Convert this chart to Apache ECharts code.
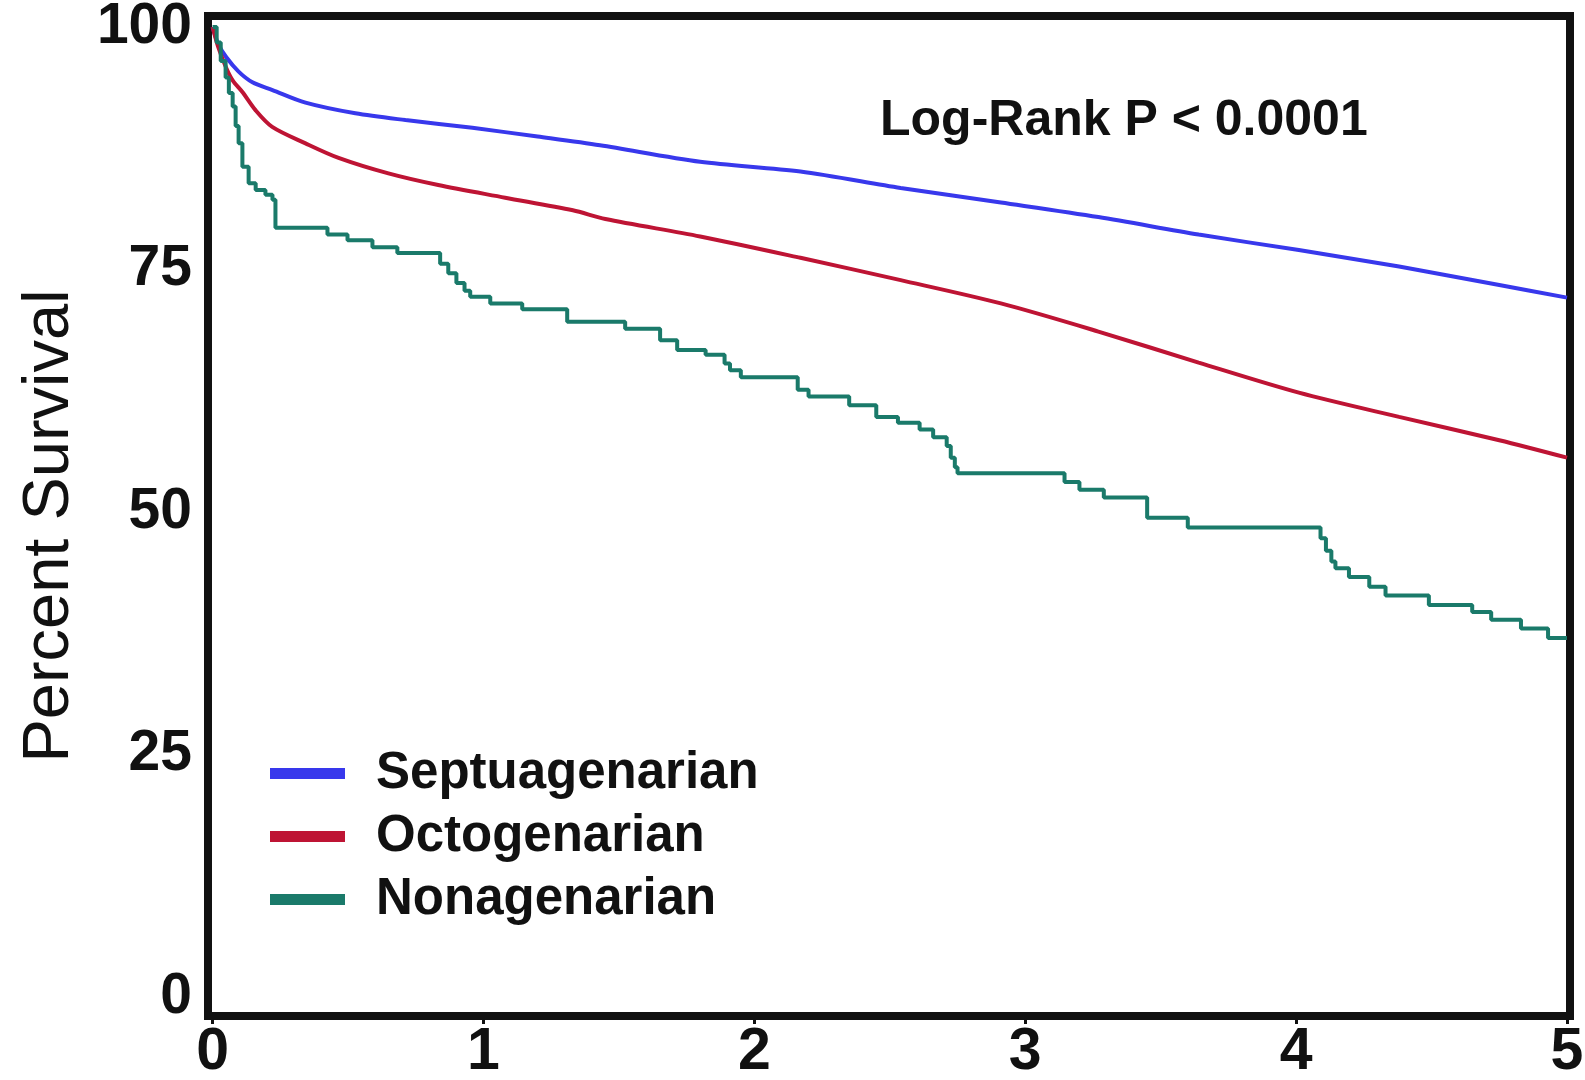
<!DOCTYPE html>
<html>
<head>
<meta charset="utf-8">
<title>Percent Survival</title>
<script src="https://cdn.jsdelivr.net/npm/echarts@6/dist/echarts.min.js"></script>
<style>
  html, body { margin: 0; padding: 0; background: #fff; overflow: hidden; }
  #chart { width: 1585px; height: 1080px; }
</style>
</head>
<body>
<div id="chart"></div>
<script>
// 数据：[年, 生存百分比]
const seriesNames = ['Septuagenarian', 'Octogenarian', 'Nonagenarian'];
const xTicks = [0, 1, 2, 3, 4, 5];
const yTicks = [0, 25, 50, 75, 100];

const septuagenarian = [
  [0, 100], [0.02, 98.3], [0.05, 96.9], [0.096, 95.4], [0.147, 94.3], [0.221, 93.5],
  [0.343, 92.2], [0.527, 91.1], [0.712, 90.4], [0.959, 89.6], [1.2, 88.7], [1.43, 87.8],
  [1.8, 86.1], [2.17, 85.1], [2.54, 83.4], [2.91, 81.9], [3.27, 80.4], [3.64, 78.6],
  [4.01, 77.0], [4.38, 75.3], [4.75, 73.4], [5.0, 72.1]
];

const octogenarian = [
  [0, 100], [0.02, 98.0], [0.05, 95.8], [0.074, 94.5], [0.11, 93.3], [0.159, 91.4],
  [0.22, 89.7], [0.343, 88.0], [0.465, 86.5], [0.649, 84.9], [0.833, 83.7], [1.08, 82.4],
  [1.33, 81.1], [1.45, 80.2], [1.8, 78.4], [2.17, 76.2], [2.54, 73.9], [2.91, 71.5],
  [3.27, 68.6], [3.64, 65.4], [4.01, 62.3], [4.38, 59.8], [4.75, 57.4], [5.0, 55.6]
];

// Kaplan-Meier 阶梯（事件时间, 事件后的生存率）
const nonagenarian = [
  [0, 100], [0.015, 98.4], [0.03, 96.5], [0.048, 94.8], [0.06, 93.2], [0.074, 91.8],
  [0.085, 89.8], [0.096, 88.0], [0.11, 85.6], [0.133, 83.9], [0.159, 83.2], [0.195, 82.7],
  [0.221, 82.2], [0.232, 79.3], [0.424, 78.6], [0.498, 78.0], [0.59, 77.3], [0.682, 76.7],
  [0.84, 75.6], [0.87, 74.6], [0.90, 73.6], [0.93, 72.8], [0.951, 72.2], [1.025, 71.5],
  [1.143, 70.9], [1.309, 69.6], [1.523, 68.9], [1.652, 67.7], [1.715, 66.7], [1.82, 66.2],
  [1.89, 65.3], [1.91, 64.6], [1.95, 63.9], [2.16, 62.6], [2.2, 61.9], [2.35, 61.0],
  [2.45, 59.8], [2.53, 59.2], [2.61, 58.5], [2.66, 57.7], [2.71, 56.8], [2.725, 55.6],
  [2.74, 54.6], [2.75, 54.0], [3.145, 53.1], [3.2, 52.3], [3.29, 51.5], [3.45, 49.4],
  [3.6, 48.4], [4.09, 47.3], [4.11, 46.0], [4.13, 44.9], [4.145, 44.2], [4.195, 43.3],
  [4.27, 42.3], [4.33, 41.4], [4.49, 40.4], [4.65, 39.7], [4.72, 38.9], [4.83, 38.0],
  [4.93, 37.0], [5.0, 37.0]
];

const colors = ['#3838ec', '#be1434', '#1a7a6a'];
const font = 'Liberation Sans, Arial, Helvetica, sans-serif';

const chart = echarts.init(document.getElementById('chart'));

const option = {
  animation: false,
  color: colors,
  grid: {
    left: 208,
    right: 15,
    top: 16,
    bottom: 64,
    outerBoundsMode: 'none', // 不让 v6 因标签溢出而收缩网格
    show: true,
    borderWidth: 8,
    borderColor: '#111'
  },
  legend: {
    orient: 'vertical',
    left: 265,
    top: 742,
    icon: 'rect',
    itemWidth: 75,
    itemHeight: 11,
    itemGap: 10,
    data: seriesNames,
    textStyle: {
      fontFamily: font,
      fontSize: 51,
      fontWeight: 'bold',
      color: '#111',
      lineHeight: 53,
      padding: [0, 0, 0, 26]
    }
  },
  xAxis: {
    type: 'value',
    // 原图的边框略宽于 0–5 的范围
    min: -0.017,
    max: 5.011,
    splitLine: { show: false },
    axisLine: { show: false, onZero: false },
    axisTick: { show: true, length: 8, lineStyle: { color: '#111', width: 3 }, customValues: xTicks },
    axisLabel: {
      margin: 7,
      fontFamily: font,
      fontSize: 59,
      fontWeight: 'bold',
      color: '#111',
      customValues: xTicks
    }
  },
  yAxis: {
    type: 'value',
    min: -1.96,
    max: 101.13,
    splitLine: { show: false },
    axisLine: { show: false },
    axisTick: { show: false },
    axisLabel: {
      margin: 16,
      fontFamily: font,
      fontSize: 57,
      fontWeight: 'bold',
      color: '#111',
      customValues: yTicks
    }
  },
  graphic: [
    {
      type: 'text',
      x: 880,
      y: 121,
      style: {
        text: 'Log-Rank P < 0.0001',
        fontFamily: font,
        fontSize: 50,
        fontWeight: 'bold',
        fill: '#111',
        verticalAlign: 'middle'
      }
    },
    {
      // 纵轴标题
      type: 'text',
      x: 50,
      y: 526,
      rotation: Math.PI / 2,
      style: {
        text: 'Percent Survival',
        fontFamily: font,
        fontSize: 65,
        fill: '#111',
        align: 'center',
        verticalAlign: 'middle'
      }
    }
  ],
  series: [
    {
      name: seriesNames[0],
      type: 'line',
      data: septuagenarian,
      showSymbol: false,
      smooth: 0.3,
      lineStyle: { width: 4 }
    },
    {
      name: seriesNames[1],
      type: 'line',
      data: octogenarian,
      showSymbol: false,
      smooth: 0.3,
      lineStyle: { width: 4 }
    },
    {
      name: seriesNames[2],
      type: 'line',
      step: 'end',
      data: nonagenarian,
      showSymbol: false,
      lineStyle: { width: 4 }
    }
  ]
};

chart.setOption(option);
</script>
</body>
</html>
